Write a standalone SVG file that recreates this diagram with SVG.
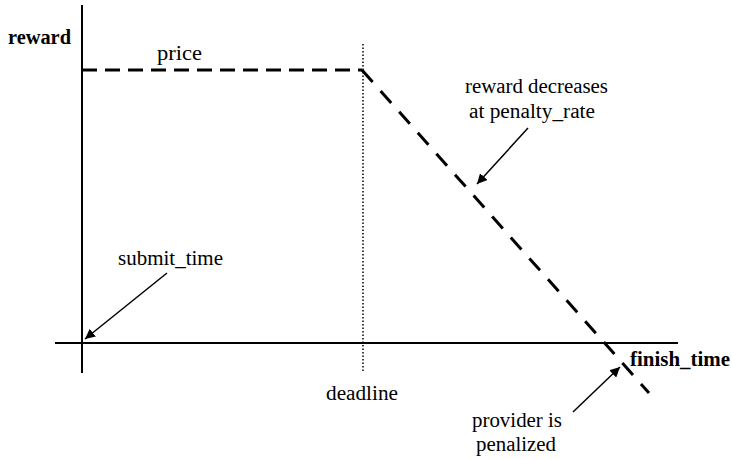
<svg xmlns="http://www.w3.org/2000/svg" width="732" height="459" viewBox="0 0 732 459">
<defs>
<marker id="ah" viewBox="0 0 10 10" refX="10" refY="5" markerWidth="10" markerHeight="10" markerUnits="userSpaceOnUse" orient="auto">
<path d="M0,0 L10,5 L0,10 z" fill="#000"/>
</marker>
<style>
text{font-family:'Liberation Serif','DejaVu Serif','Noto Serif',serif;font-size:20px;fill:#000}
.b{font-weight:bold}
.axis{stroke:#000;stroke-width:2;fill:none}
.dash{stroke:#000;stroke-width:3;fill:none}
.dot{stroke:#000;stroke-width:1.5;stroke-dasharray:1.5 2;fill:none}
.arr{stroke:#000;stroke-width:1.5;fill:none;marker-end:url(#ah)}
</style>
</defs>
<rect width="732" height="459" fill="#fff"/>
<g id="axes">
<line class="axis" x1="82" y1="5" x2="82" y2="373"/>
<line class="axis" x1="55" y1="343" x2="678" y2="343"/>
</g>
<g id="curve">
<line class="dash" x1="82" y1="70" x2="362" y2="70" stroke-dasharray="15 8"/>
<line class="dot" x1="363" y1="44" x2="363" y2="372"/>
<line class="dash" x1="362" y1="70" x2="649" y2="393" stroke-dasharray="16 12"/>
</g>
<g id="connectors">
<line class="arr" x1="528" y1="128" x2="477" y2="184"/>
<line class="arr" x1="167" y1="273" x2="85" y2="339"/>
<line class="arr" x1="573" y1="412" x2="620" y2="367"/>
</g>
<g id="labels">
<text class="b" x="8" y="44" textLength="63" lengthAdjust="spacingAndGlyphs">reward</text>
<text x="157" y="60" textLength="45" lengthAdjust="spacingAndGlyphs">price</text>
<text x="465" y="93" textLength="143" lengthAdjust="spacingAndGlyphs">reward decreases</text>
<text x="469" y="118" textLength="126" lengthAdjust="spacingAndGlyphs">at penalty_rate</text>
<text x="118" y="265" textLength="105" lengthAdjust="spacingAndGlyphs">submit_time</text>
<text x="326" y="400" textLength="72" lengthAdjust="spacingAndGlyphs">deadline</text>
<text class="b" x="630" y="366" textLength="100" lengthAdjust="spacingAndGlyphs">finish_time</text>
<text x="472" y="427" textLength="90" lengthAdjust="spacingAndGlyphs">provider is</text>
<text x="476" y="451" textLength="80" lengthAdjust="spacingAndGlyphs">penalized</text>
</g>
</svg>
